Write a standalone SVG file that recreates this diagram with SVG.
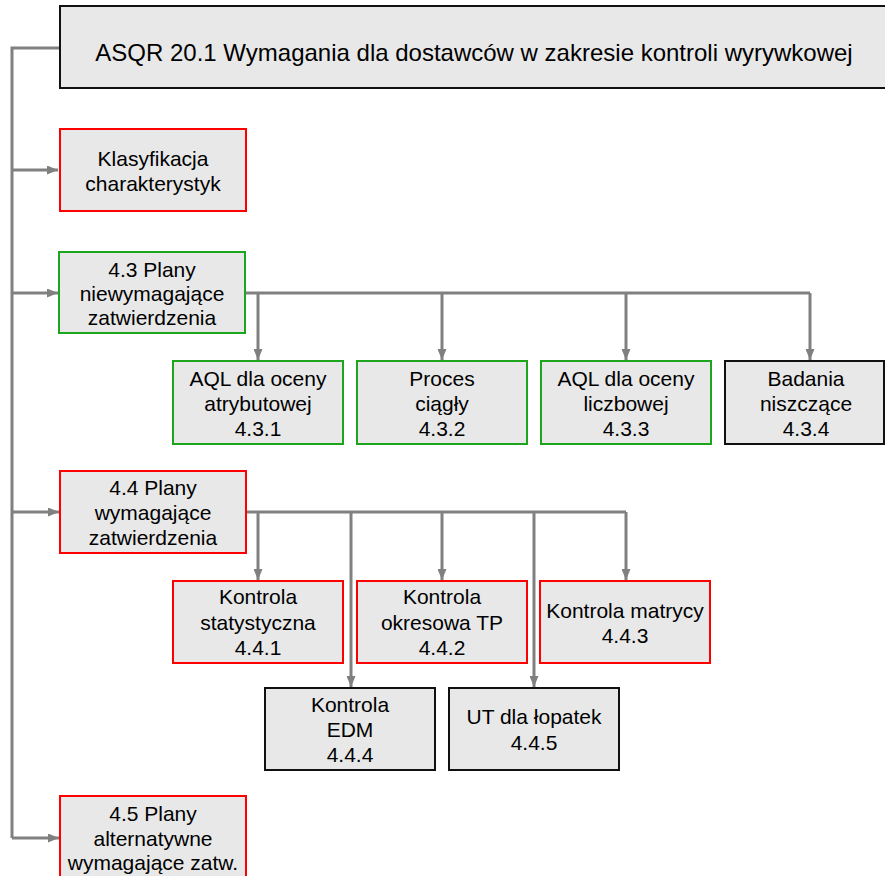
<svg xmlns="http://www.w3.org/2000/svg" width="885" height="876" viewBox="0 0 885 876">
<defs>
<style>
.box{fill:#e8e8e8;stroke-width:2}
.r{stroke:#ff0000}
.g{stroke:#1ea51e}
.k{stroke:#111111}
text{font-family:"Liberation Sans",Arial,sans-serif;font-size:21px;fill:#000;text-anchor:middle}
.t{font-size:24px}
.c{fill:none;stroke:#808080;stroke-width:3}
</style>
<marker id="a" markerWidth="11" markerHeight="9" refX="11" refY="4.5" orient="auto" markerUnits="userSpaceOnUse">
<path d="M0,0 L11,4.5 L0,9 Z" fill="#808080"/>
</marker>
</defs>
<g id="connectors">
<path class="c" d="M60,48 H12 V838"/>
<path class="c" d="M12,170 H58" marker-end="url(#a)"/>
<path class="c" d="M12,293 H58" marker-end="url(#a)"/>
<path class="c" d="M12,512 H59" marker-end="url(#a)"/>
<path class="c" d="M12,838 H59" marker-end="url(#a)"/>
<path class="c" d="M245,293 H810"/>
<path class="c" d="M258,293 V360" marker-end="url(#a)"/>
<path class="c" d="M442,293 V360" marker-end="url(#a)"/>
<path class="c" d="M626,293 V360" marker-end="url(#a)"/>
<path class="c" d="M810,293 V360" marker-end="url(#a)"/>
<path class="c" d="M246,512 H626"/>
<path class="c" d="M258,512 V580" marker-end="url(#a)"/>
<path class="c" d="M351,512 V687" marker-end="url(#a)"/>
<path class="c" d="M442,512 V580" marker-end="url(#a)"/>
<path class="c" d="M534,512 V687" marker-end="url(#a)"/>
<path class="c" d="M626,512 V580" marker-end="url(#a)"/>
</g>
<g id="title">
<rect class="box k" x="60" y="6" width="835" height="82"/>
<text class="t" x="474" y="61">ASQR 20.1 Wymagania dla dostawców w zakresie kontroli wyrywkowej</text>
</g>
<g id="klasyfikacja">
<rect class="box r" x="60" y="129" width="186" height="82"/>
<text x="153" y="166">Klasyfikacja</text>
<text x="153" y="191">charakterystyk</text>
</g>
<g id="n43">
<rect class="box g" x="59" y="252" width="186" height="81"/>
<text x="152" y="277">4.3 Plany</text>
<text x="152" y="301">niewymagające</text>
<text x="152" y="325">zatwierdzenia</text>
</g>
<g id="n431">
<rect class="box g" x="173" y="361" width="170" height="83"/>
<text x="258" y="386">AQL dla oceny</text>
<text x="258" y="411">atrybutowej</text>
<text x="258" y="436">4.3.1</text>
</g>
<g id="n432">
<rect class="box g" x="357" y="361" width="170" height="83"/>
<text x="442" y="386">Proces</text>
<text x="442" y="411">ciągły</text>
<text x="442" y="436">4.3.2</text>
</g>
<g id="n433">
<rect class="box g" x="541" y="361" width="170" height="83"/>
<text x="626" y="386">AQL dla oceny</text>
<text x="626" y="411">liczbowej</text>
<text x="626" y="436">4.3.3</text>
</g>
<g id="n434">
<rect class="box k" x="725" y="361" width="159" height="83"/>
<text x="806" y="386">Badania</text>
<text x="806" y="411">niszczące</text>
<text x="806" y="436">4.3.4</text>
</g>
<g id="n44">
<rect class="box r" x="60" y="471" width="186" height="82"/>
<text x="153" y="495">4.4 Plany</text>
<text x="153" y="520">wymagające</text>
<text x="153" y="545">zatwierdzenia</text>
</g>
<g id="n441">
<rect class="box r" x="173" y="581" width="170" height="82"/>
<text x="258" y="604">Kontrola</text>
<text x="258" y="630">statystyczna</text>
<text x="258" y="655">4.4.1</text>
</g>
<g id="n442">
<rect class="box r" x="357" y="581" width="170" height="82"/>
<text x="442" y="604">Kontrola</text>
<text x="442" y="630">okresowa TP</text>
<text x="442" y="655">4.4.2</text>
</g>
<g id="n443">
<rect class="box r" x="540" y="581" width="170" height="82"/>
<text x="625" y="618">Kontrola matrycy</text>
<text x="625" y="643">4.4.3</text>
</g>
<g id="n444">
<rect class="box k" x="265" y="688" width="170" height="82"/>
<text x="350" y="712">Kontrola</text>
<text x="350" y="737">EDM</text>
<text x="350" y="762">4.4.4</text>
</g>
<g id="n445">
<rect class="box k" x="449" y="688" width="170" height="82"/>
<text x="534" y="724">UT dla łopatek</text>
<text x="534" y="750">4.4.5</text>
</g>
<g id="n45">
<rect class="box r" x="60" y="796" width="186" height="84"/>
<text x="153" y="821">4.5 Plany</text>
<text x="153" y="846">alternatywne</text>
<text x="153" y="870">wymagające zatw.</text>
</g>
</svg>
